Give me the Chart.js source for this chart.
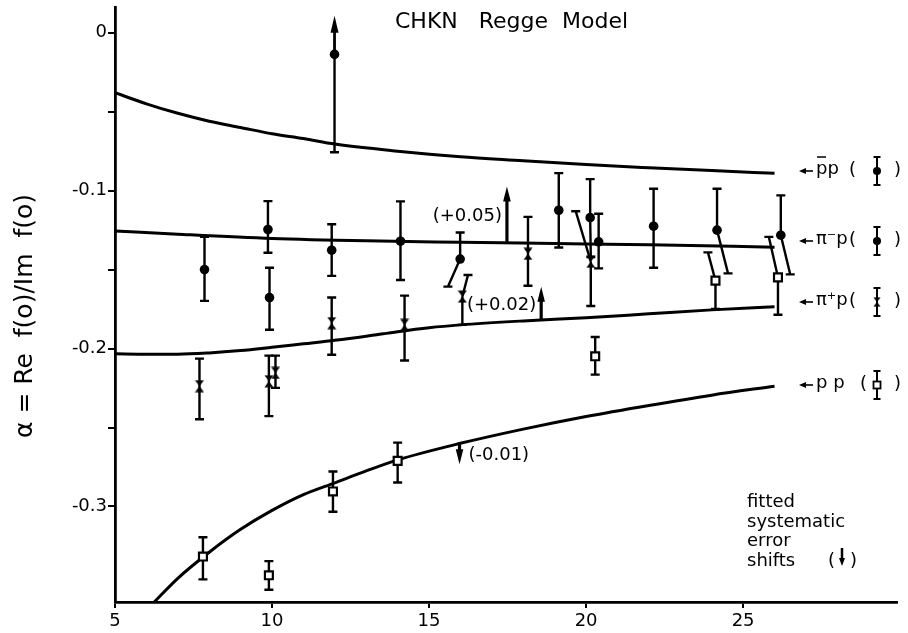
<!DOCTYPE html>
<html>
<head>
<meta charset="utf-8">
<script src="https://cdn.jsdelivr.net/npm/chart.js@4.4.1/dist/chart.umd.min.js"></script>
<style>
  body { margin: 0; background: #fff; }
  canvas { display: block; }
</style>
</head>
<body>
<canvas id="reggeChart" width="908" height="633"></canvas>
<script>
"use strict";

// Axis ticks
const xTicks = [5, 10, 15, 20, 25];
const yTicks = [0, -0.05, -0.1, -0.15, -0.2, -0.25, -0.3];
const yTickLabels = ["0", "", "-0.1", "", "-0.2", "", "-0.3"];

// Regge model curves
const ppbarCurveX = [5, 6, 7, 8, 9, 10, 11, 12, 14, 16, 18, 20, 22, 24, 26];
const ppbarCurveY = [-0.038, -0.045, -0.051, -0.056, -0.060, -0.064, -0.067, -0.0705, -0.075, -0.0785, -0.081, -0.0835, -0.0855, -0.0873, -0.089];
const pimCurveX = [5, 7, 10, 13, 16, 19, 22, 26];
const pimCurveY = [-0.1255, -0.1276, -0.1303, -0.1318, -0.1327, -0.1335, -0.1343, -0.1358];
const pipCurveX = [5, 6, 7, 8, 9, 10, 11, 12, 13, 14, 15, 16, 18, 20, 22, 24, 26];
const pipCurveY = [-0.2033, -0.2036, -0.2036, -0.2028, -0.2013, -0.1992, -0.197, -0.1948, -0.1922, -0.1893, -0.1868, -0.185, -0.1825, -0.1805, -0.178, -0.1755, -0.1735];
const ppCurveX = [6.2, 7, 8, 9, 10, 11, 12, 13, 14, 16, 18, 20, 22, 24, 26];
const ppCurveY = [-0.3615, -0.3455, -0.329, -0.3145, -0.3025, -0.2925, -0.285, -0.2775, -0.2705, -0.26, -0.251, -0.243, -0.236, -0.2295, -0.2238];

// Measured points with errors (hiX / loX = where a slanted error bar ends)
const ppbarX = [11.99];
const ppbarY = [-0.0137];
const ppbarHi = [0.0107];
const ppbarLo = [-0.0757];

const pimX = [7.85, 9.87, 9.92, 11.9, 14.09, 15.99, 19.13, 20.13, 20.4, 22.15, 24.17, 26.2];
const pimY = [-0.15, -0.1246, -0.1677, -0.1377, -0.132, -0.1433, -0.1124, -0.1171, -0.1324, -0.1225, -0.125, -0.1282];
const pimHi = [-0.1293, -0.1066, -0.1488, -0.1213, -0.1068, -0.1265, -0.0889, -0.0927, -0.1146, -0.0988, -0.0988, -0.103];
const pimLo = [-0.1698, -0.1393, -0.1881, -0.154, -0.1566, -0.1608, -0.136, -0.142, -0.1492, -0.1488, -0.1524, -0.153];
const pimLoX = [7.85, 9.87, 9.92, 11.9, 14.09, 15.6, 19.13, 20.15, 20.4, 22.15, 24.52, 26.5];

const pipX = [7.69, 9.9, 10.11, 11.9, 14.22, 16.06, 18.15, 20.15];
const pipY = [-0.2238, -0.2207, -0.2154, -0.1839, -0.185, -0.1671, -0.14, -0.145];
const pipHi = [-0.2064, -0.2045, -0.2045, -0.1677, -0.1665, -0.1534, -0.1166, -0.113];
const pipHiX = [7.69, 9.9, 10.11, 11.9, 14.22, 16.24, 18.15, 19.67];
const pipLo = [-0.2448, -0.2428, -0.2249, -0.2039, -0.2076, -0.185, -0.1602, -0.173];

const ppX = [7.8, 9.9, 11.94, 14.0, 20.29, 24.12, 26.11];
const ppY = [-0.3317, -0.3436, -0.2905, -0.2711, -0.2049, -0.157, -0.1549];
const ppHi = [-0.3195, -0.3346, -0.2779, -0.2596, -0.1927, -0.1391, -0.1293];
const ppHiX = [7.8, 9.9, 11.94, 14.0, 20.29, 23.88, 25.82];
const ppLo = [-0.3462, -0.3527, -0.3033, -0.2848, -0.2165, -0.1749, -0.1786];

// Fitted systematic error shifts
const shiftX = [17.48, 18.57, 15.97];
const shiftFrom = [-0.1324, -0.1818, -0.2596];
const shiftTo = [-0.0973, -0.1608, -0.2732];
const shiftLabels = ["(+0.05)", "(+0.02)", "(-0.01)"];

const FONT = "'DejaVu Sans', sans-serif";

function toPoints(xs, ys) {
	return xs.map(function (v, i) {
		return { x: v, y: ys[i] };
	});
}

// hourglass marker used for pi+ p
function makeHourglass() {
	const c = document.createElement("canvas");
	c.width = 10;
	c.height = 13;
	const g = c.getContext("2d");
	g.fillStyle = "#000";
	g.beginPath();
	g.moveTo(0.5, 0.5);
	g.lineTo(9.5, 0.5);
	g.lineTo(5, 6.5);
	g.closePath();
	g.moveTo(5, 6.5);
	g.lineTo(9.5, 12.5);
	g.lineTo(0.5, 12.5);
	g.closePath();
	g.fill();
	return c;
}
const hourglass = makeHourglass();

const errorSeries = [
	{ x: ppbarX, y: ppbarY, hi: ppbarHi, lo: ppbarLo, hiX: ppbarX, loX: ppbarX, arrowUp: true },
	{ x: pimX, y: pimY, hi: pimHi, lo: pimLo, hiX: pimX, loX: pimLoX },
	{ x: pipX, y: pipY, hi: pipHi, lo: pipLo, hiX: pipHiX, loX: pipX },
	{ x: ppX, y: ppY, hi: ppHi, lo: ppLo, hiX: ppHiX, loX: ppX },
];

function upArrow(ctx, px, fromPy, toPy, headLen, headHalf, width) {
	const dir = toPy < fromPy ? 1 : -1;
	ctx.lineWidth = width;
	ctx.beginPath();
	ctx.moveTo(px, fromPy);
	ctx.lineTo(px, toPy + dir * headLen * 0.8);
	ctx.stroke();
	ctx.beginPath();
	ctx.moveTo(px, toPy);
	ctx.lineTo(px - headHalf, toPy + dir * headLen);
	ctx.lineTo(px + headHalf, toPy + dir * headLen);
	ctx.closePath();
	ctx.fill();
}

// error bars go under the markers
const errorBarPlugin = {
	id: "errorBars",
	beforeDatasetsDraw(chart) {
		const ctx = chart.ctx;
		const xs = chart.scales.x;
		const ys = chart.scales.y;
		ctx.save();
		ctx.strokeStyle = "#000";
		ctx.fillStyle = "#000";
		errorSeries.forEach(function (s) {
			s.x.forEach(function (xv, i) {
				const px = xs.getPixelForValue(xv);
				const py = ys.getPixelForValue(s.y[i]);
				const hx = xs.getPixelForValue(s.hiX[i]);
				const hy = ys.getPixelForValue(s.hi[i]);
				const lx = xs.getPixelForValue(s.loX[i]);
				const ly = ys.getPixelForValue(s.lo[i]);
				ctx.lineWidth = 2.4;
				ctx.beginPath();
				ctx.moveTo(lx, ly);
				ctx.lineTo(px, py);
				ctx.moveTo(lx - 4.5, ly);
				ctx.lineTo(lx + 4.5, ly);
				if (s.arrowUp) {
					ctx.stroke();
					upArrow(ctx, hx, py, hy, 17, 4, 2.8);
					return;
				}
				ctx.moveTo(px, py);
				ctx.lineTo(hx, hy);
				ctx.moveTo(hx - 4.5, hy);
				ctx.lineTo(hx + 4.5, hy);
				ctx.stroke();
			});
		});
		ctx.restore();
	},
	afterDraw(chart) {
		const ctx = chart.ctx;
		const xs = chart.scales.x;
		const ys = chart.scales.y;
		ctx.save();
		ctx.fillStyle = "#000";
		ctx.strokeStyle = "#000";

		// systematic shift arrows and their labels
		ctx.font = "18px " + FONT;
		ctx.textBaseline = "middle";
		shiftX.forEach(function (xv, i) {
			const px = xs.getPixelForValue(xv);
			const p0 = ys.getPixelForValue(shiftFrom[i]);
			const p1 = ys.getPixelForValue(shiftTo[i]);
			upArrow(ctx, px, p0, p1, 15, 3.8, 3.2);
			const midY = (p0 + p1) / 2 + 2;
			if (shiftTo[i] > shiftFrom[i]) {
				ctx.textAlign = "right";
				ctx.fillText(shiftLabels[i], px - 5, midY);
			} else {
				ctx.textAlign = "left";
				ctx.fillText(shiftLabels[i], px + 9, midY);
			}
		});

		// title
		ctx.textAlign = "left";
		ctx.textBaseline = "alphabetic";
		ctx.font = "22px " + FONT;
		ctx.fillText("CHKN   Regge  Model", 395, 28);

		// y axis title
		ctx.save();
		ctx.translate(32, 316);
		ctx.rotate(-Math.PI / 2);
		ctx.textAlign = "center";
		ctx.font = "25px " + FONT;
		ctx.fillText("\u03b1 = Re  f(o)/Im  f(o)", 0, 0);
		ctx.restore();

		// legend on the right
		const rows = [
			{ y: 171, name: "pp", bar: true, mark: "dot" },
			{ y: 241, name: "\u03c0\u207bp", mark: "dot" },
			{ y: 302, name: "\u03c0\u207ap", mark: "hour" },
			{ y: 385, name: "p p", mark: "box" },
		];
		ctx.font = "18px " + FONT;
		ctx.textBaseline = "middle";
		rows.forEach(function (r) {
			ctx.lineWidth = 1.6;
			ctx.beginPath();
			ctx.moveTo(804, r.y);
			ctx.lineTo(813, r.y);
			ctx.stroke();
			ctx.beginPath();
			ctx.moveTo(799, r.y);
			ctx.lineTo(806, r.y - 3);
			ctx.lineTo(806, r.y + 3);
			ctx.closePath();
			ctx.fill();
			ctx.textAlign = "left";
			ctx.fillText(r.name, 816, r.y - 2);
			if (r.bar) {
				ctx.lineWidth = 1.5;
				ctx.beginPath();
				ctx.moveTo(817, r.y - 14);
				ctx.lineTo(826, r.y - 14);
				ctx.stroke();
			}
			ctx.fillText("(", r.mark === "box" ? 860 : 849, r.y - 1);
			ctx.fillText(")", 894, r.y - 1);
			// little error bar glyph
			const mx = 877;
			ctx.lineWidth = 2;
			ctx.beginPath();
			ctx.moveTo(mx, r.y - 14);
			ctx.lineTo(mx, r.y + 14);
			ctx.moveTo(mx - 3.5, r.y - 14);
			ctx.lineTo(mx + 3.5, r.y - 14);
			ctx.moveTo(mx - 3.5, r.y + 14);
			ctx.lineTo(mx + 3.5, r.y + 14);
			ctx.stroke();
			if (r.mark === "dot") {
				ctx.beginPath();
				ctx.arc(mx, r.y, 4, 0, Math.PI * 2);
				ctx.fill();
			} else if (r.mark === "hour") {
				ctx.drawImage(hourglass, mx - 4, r.y - 5, 8, 10);
			} else {
				ctx.fillStyle = "#fff";
				ctx.fillRect(mx - 3.5, r.y - 3.5, 7, 7);
				ctx.fillStyle = "#000";
				ctx.lineWidth = 1.8;
				ctx.strokeRect(mx - 3.5, r.y - 3.5, 7, 7);
			}
		});

		// note in the lower right corner
		ctx.textAlign = "left";
		ctx.textBaseline = "alphabetic";
		ctx.fillText("fitted", 747, 507);
		ctx.fillText("systematic", 747, 526.5);
		ctx.fillText("error", 747, 546);
		ctx.fillText("shifts", 747, 565.5);
		ctx.fillText("(", 828, 565.5);
		ctx.fillText(")", 850, 565.5);
		upArrow(ctx, 842, 548, 566, 8, 3, 2.5);

		ctx.restore();
	},
};

const pointDefaults = {
	showLine: false,
	borderColor: "#000",
	backgroundColor: "#000",
};

const curveStyle = {
	showLine: true,
	pointRadius: 0,
	borderColor: "#000",
	borderWidth: 3,
	cubicInterpolationMode: "monotone",
	fill: false,
};

new Chart(document.getElementById("reggeChart"), {
	type: "scatter",
	data: {
		datasets: [
			Object.assign({ label: "pbar p", data: toPoints(ppbarX, ppbarY), pointStyle: "circle", pointRadius: 4.8, borderWidth: 0 }, pointDefaults),
			Object.assign({ label: "pi- p", data: toPoints(pimX, pimY), pointStyle: "circle", pointRadius: 4.8, borderWidth: 0 }, pointDefaults),
			Object.assign({ label: "pi+ p", data: toPoints(pipX, pipY), pointStyle: hourglass, pointRadius: 5 }, pointDefaults),
			{ label: "p p", data: toPoints(ppX, ppY), showLine: false, pointStyle: "rect", pointRadius: 5.6, borderWidth: 2.2, borderColor: "#000", backgroundColor: "#fff" },
			Object.assign({ label: "pbar p model", data: toPoints(ppbarCurveX, ppbarCurveY) }, curveStyle),
			Object.assign({ label: "pi- p model", data: toPoints(pimCurveX, pimCurveY) }, curveStyle),
			Object.assign({ label: "pi+ p model", data: toPoints(pipCurveX, pipCurveY) }, curveStyle),
			Object.assign({ label: "p p model", data: toPoints(ppCurveX, ppCurveY) }, curveStyle),
		],
	},
	options: {
		responsive: false,
		animation: false,
		layout: { padding: { top: 5, right: 11, left: 0, bottom: 0 } },
		plugins: {
			legend: { display: false },
			tooltip: { enabled: false },
		},
		scales: {
			x: {
				type: "linear",
				min: 5,
				max: 29.9,
				afterBuildTicks: function (scale) {
					scale.ticks = xTicks.map(function (v) {
						return { value: v };
					});
				},
				afterFit: function (scale) {
					scale.height = 31;
					scale.paddingLeft = 0;
					scale.paddingRight = 0;
				},
				ticks: {
					autoSkip: false,
					maxRotation: 0,
					padding: 3,
					color: "#000",
					font: { family: FONT, size: 18 },
				},
				grid: { drawOnChartArea: false, drawTicks: true, tickLength: 6, color: "#000", lineWidth: 2 },
				border: { display: true, color: "#000", width: 2.8 },
			},
			y: {
				type: "linear",
				min: -0.3605,
				max: 0.0158,
				afterBuildTicks: function (scale) {
					scale.ticks = yTicks.map(function (v) {
						return { value: v };
					});
				},
				afterFit: function (scale) {
					scale.width = 115;
					// the top tick sits well inside the axis, no room needed for its label
					scale.paddingTop = 0;
					scale.paddingBottom = 0;
				},
				ticks: {
					autoSkip: false,
					padding: 1,
					color: "#000",
					font: { family: FONT, size: 18 },
					callback: function (value) {
						const i = yTicks.findIndex(function (t) {
							return Math.abs(t - value) < 1e-9;
						});
						return i >= 0 ? yTickLabels[i] : "";
					},
				},
				grid: { drawOnChartArea: false, drawTicks: true, tickLength: 7, color: "#000", lineWidth: 2 },
				border: { display: true, color: "#000", width: 2.8 },
			},
		},
	},
	plugins: [errorBarPlugin],
});
</script>
</body>
</html>
